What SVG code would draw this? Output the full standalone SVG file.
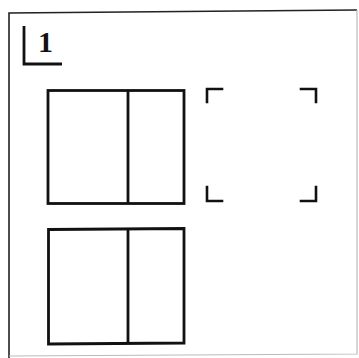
<svg xmlns="http://www.w3.org/2000/svg" width="359" height="358" viewBox="0 0 359 358">
<style>
.frame{fill:none;stroke:#222;stroke-width:1.6}
.frame2{fill:none;stroke:#bbb;stroke-width:1.2}
.box{fill:none;stroke:#111;stroke-width:2.8;stroke-linejoin:miter}
.br{fill:none;stroke:#111;stroke-width:2.6;stroke-linecap:square}
.lbl{font-family:"Liberation Serif",serif;font-weight:bold;font-size:30px;fill:#111}
</style>
<rect width="359" height="358" fill="#fff"/>
<g id="frame">
<polyline class="frame" points="9,359 9,13 357,10"/>
<polyline class="frame2" points="357,10 357,354 9,356"/>
</g>
<g id="label">
<polyline class="box" points="24,26 24,64 62,64"/>
<text class="lbl" x="38" y="52">1</text>
</g>
<g id="box-top">
<rect class="box" x="48" y="90.5" width="136" height="113"/>
<line class="box" x1="128" y1="90.5" x2="128" y2="203.5"/>
</g>
<g id="box-bottom">
<polygon class="box" points="48.5,229.5 184,228.5 184,343 48.5,344"/>
<line class="box" x1="128" y1="229" x2="128" y2="343.5"/>
</g>
<g id="placeholder">
<polyline class="br" points="207,102 207,89 222,89"/>
<polyline class="br" points="301,89 316,89 316,102"/>
<polyline class="br" points="207,187 207,201 222,201"/>
<polyline class="br" points="301,201 316,201 316,187"/>
</g>
<g id="connectors"></g>
</svg>
